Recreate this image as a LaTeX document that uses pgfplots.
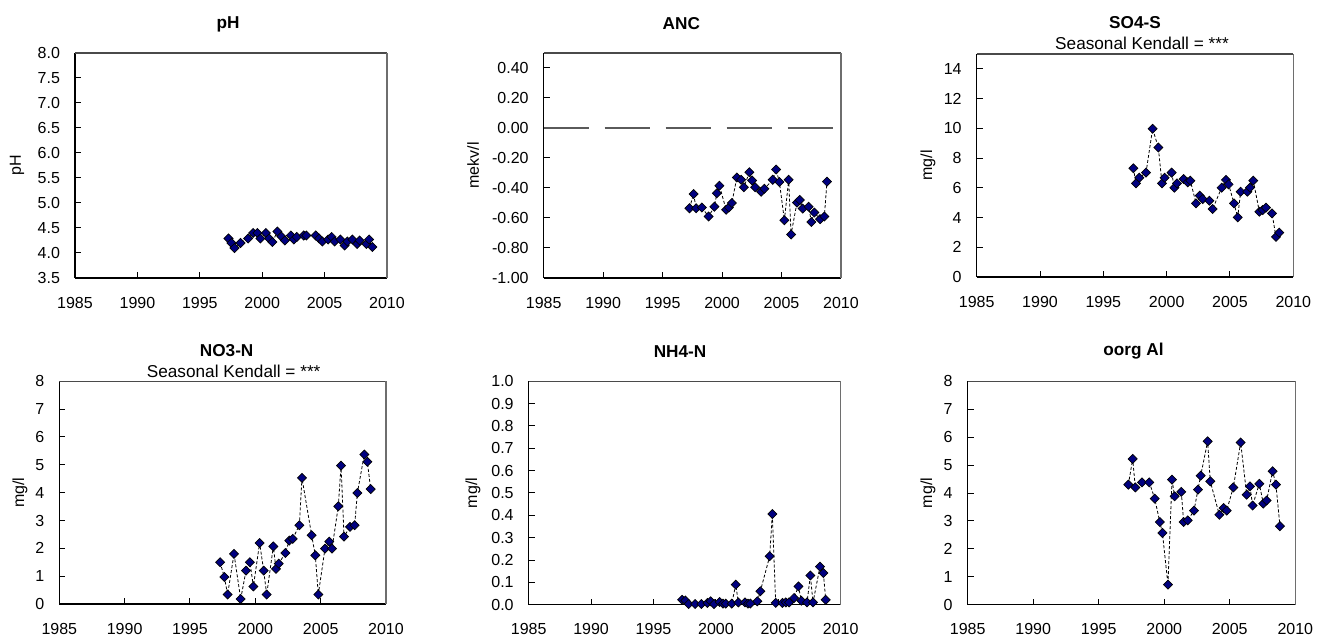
\documentclass[border=0pt]{standalone}
\usepackage{fontspec}
\setmainfont{Liberation Sans}
\usepackage{pgfplots}
\pgfplotsset{compat=1.18}
\definecolor{navy}{HTML}{000080}
\definecolor{zline}{HTML}{5A5A5A}
\definecolor{rline}{HTML}{6E6E6E}
\definecolor{tline}{HTML}{4A4A4A}

\newcommand{\tfont}{\fontsize{8.6}{10}\selectfont}
\newcommand{\lfont}{\fontsize{8}{9}\selectfont}
\newcommand{\frameedges}{%
  \draw[tline, line width=0.6pt] (rel axis cs:0,1) -- (rel axis cs:1,1);
  \draw[rline, line width=0.7pt] (rel axis cs:1,0) -- (rel axis cs:1,1);}

\pgfplotsset{
  panel/.style={
    scale only axis, anchor=south west, clip=false,
    xmin=1985, xmax=2010, xtick={1985,1990,...,2010},
    tick align=inside, tick pos=left, major tick length=3pt,
    tick style={black, line width=0.5pt},
    axis x line*=bottom, axis y line*=left,
    axis line style={black, line width=0.65pt, -},
    ticklabel style={font=\lfont},
    xticklabel style={yshift=-6pt},
    yticklabel style={xshift=-4pt},
    /pgf/number format/assume math mode=true,
    /pgf/number format/1000 sep={},
  },
  series/.style={
    black, line width=0.4pt, dash pattern=on 1.5pt off 1pt,
    mark=square*, mark size=1.6pt,
    mark options={solid, rotate=45, fill=navy, draw=black, line width=0.35pt},
  },
}

\begin{document}
\begin{tikzpicture}
\path[use as bounding box] (0,0) rectangle (664pt,318.5pt);

% ---------- pH
\begin{axis}[panel, at={(37.5pt,179.5pt)}, width=156pt, height=112.5pt,
  ymin=3.5, ymax=8.0, ytick={3.5,4.0,...,8.0},
  yticklabel style={/pgf/number format/.cd, fixed, fixed zerofill, precision=1}]
  \frameedges
  \addplot[series] coordinates {
    (1997.30,4.29)(1997.54,4.20)(1997.78,4.10)(1998.26,4.20)(1998.87,4.29)
    (1999.27,4.40)(1999.62,4.40)(1999.86,4.29)(2000.29,4.40)(2000.55,4.29)
    (2000.82,4.22)(2001.22,4.43)(2001.54,4.33)(2001.81,4.25)(2002.29,4.35)
    (2002.53,4.27)(2002.77,4.32)(2003.33,4.35)(2003.54,4.35)(2004.29,4.35)
    (2004.56,4.29)(2004.82,4.23)(2005.28,4.27)(2005.57,4.32)(2005.81,4.23)
    (2006.26,4.27)(2006.61,4.15)(2006.82,4.23)(2007.22,4.27)(2007.60,4.18)
    (2007.81,4.25)(2008.35,4.18)(2008.56,4.27)(2008.83,4.12)};
  \node[font=\tfont\bfseries] at ([xshift=-1.5pt,yshift=14.5pt]rel axis cs:0.5,1) {pH};
  \node[font=\lfont, rotate=90] at ([xshift=-29pt]rel axis cs:0,0.5) {pH};
\end{axis}

% ---------- ANC
\begin{axis}[panel, at={(271.85pt,179.5pt)}, width=148.65pt, height=112.5pt,
  ymin=-1.0, ymax=0.5, ytick={-1.0,-0.8,...,0.41},
  yticklabel style={/pgf/number format/.cd, fixed, fixed zerofill, precision=2}]
  \frameedges
  \addplot[zline, line width=0.7pt, dash pattern=on 22.5pt off 8pt] coordinates {(1985,0)(2010,0)};
  \addplot[series] coordinates {
    (1997.26,-0.535)(1997.60,-0.44)(1997.82,-0.535)(1998.30,-0.53)(1998.86,-0.59)
    (1999.36,-0.525)(1999.56,-0.435)(1999.78,-0.385)(2000.34,-0.545)(2000.57,-0.53)
    (2000.82,-0.50)(2001.24,-0.33)(2001.60,-0.345)(2001.83,-0.395)(2002.30,-0.295)
    (2002.53,-0.35)(2002.78,-0.395)(2003.28,-0.425)(2003.56,-0.405)(2004.26,-0.345)
    (2004.54,-0.277)(2004.82,-0.36)(2005.24,-0.615)(2005.60,-0.345)(2005.80,-0.71)
    (2006.30,-0.497)(2006.53,-0.48)(2006.78,-0.537)(2007.28,-0.525)(2007.51,-0.627)
    (2007.76,-0.564)(2008.24,-0.608)(2008.60,-0.59)(2008.82,-0.358)};
  \node[font=\tfont\bfseries] at ([xshift=-5.5pt,yshift=14.5pt]rel axis cs:0.5,1) {ANC};
  \node[font=\lfont, rotate=90] at ([xshift=-35.3pt]rel axis cs:0,0.5) {mekv/l};
\end{axis}

% ---------- SO4-S
\begin{axis}[panel, at={(488.35pt,180pt)}, width=158.3pt, height=111.5pt,
  ymin=0, ymax=15, ytick={0,2,...,14}]
  \frameedges
  \addplot[series] coordinates {
    (1997.37,7.31)(1997.58,6.30)(1997.84,6.68)(1998.37,7.02)(1998.89,9.97)
    (1999.34,8.71)(1999.63,6.30)(1999.84,6.68)(2000.39,7.02)(2000.61,6.01)
    (2000.82,6.30)(2001.34,6.59)(2001.66,6.37)(2001.87,6.48)(2002.32,4.95)
    (2002.61,5.47)(2002.84,5.24)(2003.37,5.13)(2003.63,4.57)(2004.34,6.01)
    (2004.68,6.53)(2004.89,6.23)(2005.32,4.95)(2005.61,4.01)(2005.84,5.74)
    (2006.37,5.74)(2006.58,6.01)(2006.84,6.48)(2007.32,4.39)(2007.58,4.50)
    (2007.84,4.66)(2008.32,4.28)(2008.63,2.70)(2008.89,2.99)};
  \node[font=\tfont\bfseries] at ([yshift=15.5pt]rel axis cs:0.5,1) {SO4-S};
  \node[font=\tfont] at ([xshift=3.5pt,yshift=5.5pt]rel axis cs:0.5,1) {Seasonal Kendall = ***};
  \node[font=\lfont, rotate=90] at ([xshift=-24.3pt]rel axis cs:0,0.5) {mg/l};
\end{axis}

% ---------- NO3-N
\begin{axis}[panel, at={(29.65pt,16.5pt)}, width=163.35pt, height=111.35pt,
  ymin=0, ymax=8, ytick={0,1,...,8}]
  \frameedges
  \addplot[series] coordinates {
    (1997.30,1.50)(1997.63,0.97)(1997.88,0.34)(1998.37,1.80)(1998.88,0.18)
    (1999.29,1.20)(1999.59,1.50)(1999.85,0.63)(2000.33,2.19)(2000.64,1.20)
    (2000.87,0.34)(2001.38,2.07)(2001.58,1.26)(2001.79,1.45)(2002.30,1.83)
    (2002.60,2.28)(2002.86,2.34)(2003.37,2.83)(2003.57,4.53)(2004.31,2.47)
    (2004.59,1.75)(2004.82,0.34)(2005.33,1.99)(2005.66,2.24)(2005.87,1.99)
    (2006.35,3.51)(2006.56,4.97)(2006.79,2.42)(2007.24,2.77)(2007.60,2.83)
    (2007.81,3.99)(2008.34,5.37)(2008.57,5.11)(2008.83,4.13)};
  \node[font=\tfont\bfseries] at ([xshift=2pt,yshift=15.5pt]rel axis cs:0.5,1) {NO3-N};
  \node[font=\tfont] at ([xshift=5.5pt,yshift=5pt]rel axis cs:0.5,1) {Seasonal Kendall = ***};
  \node[font=\lfont, rotate=90] at ([xshift=-19.7pt]rel axis cs:0,0.5) {mg/l};
\end{axis}

% ---------- NH4-N
\begin{axis}[panel, at={(264.35pt,16.15pt)}, width=156pt, height=111.7pt,
  ymin=0, ymax=1.0, ytick={0,0.1,...,1.01},
  yticklabel style={/pgf/number format/.cd, fixed, fixed zerofill, precision=1}]
  \frameedges
  \addplot[series] coordinates {
    (1997.29,0.022)(1997.55,0.019)(1997.82,0.003)(1998.33,0.003)(1998.84,0.003)
    (1999.32,0.008)(1999.58,0.015)(1999.85,0.003)(2000.30,0.012)(2000.57,0.005)
    (2000.79,0.005)(2001.27,0.005)(2001.59,0.090)(2001.80,0.010)(2002.33,0.010)
    (2002.57,0.005)(2002.76,0.005)(2003.32,0.015)(2003.56,0.060)(2004.31,0.217)
    (2004.52,0.406)(2004.79,0.008)(2005.33,0.008)(2005.60,0.010)(2005.86,0.010)
    (2006.26,0.030)(2006.61,0.082)(2006.85,0.018)(2007.30,0.010)(2007.57,0.131)
    (2007.78,0.010)(2008.34,0.170)(2008.61,0.142)(2008.80,0.022)};
  \node[font=\tfont\bfseries] at ([xshift=-2.3pt,yshift=15pt]rel axis cs:0.5,1) {NH4-N};
  \node[font=\lfont, rotate=90] at ([xshift=-27.8pt]rel axis cs:0,0.5) {mg/l};
\end{axis}

% ---------- oorg Al
\begin{axis}[panel, at={(483.85pt,16.15pt)}, width=163.8pt, height=111.7pt,
  ymin=0, ymax=8, ytick={0,1,...,8}]
  \frameedges
  \addplot[series] coordinates {
    (1997.26,4.30)(1997.59,5.22)(1997.79,4.20)(1998.30,4.38)(1998.86,4.38)
    (1999.27,3.80)(1999.66,2.96)(1999.86,2.57)(2000.28,0.72)(2000.59,4.48)
    (2000.79,3.88)(2001.30,4.04)(2001.48,2.96)(2001.79,3.02)(2002.27,3.37)
    (2002.57,4.12)(2002.78,4.62)(2003.31,5.85)(2003.51,4.42)(2004.20,3.22)
    (2004.53,3.46)(2004.76,3.37)(2005.27,4.20)(2005.83,5.81)(2006.29,3.94)
    (2006.54,4.24)(2006.74,3.55)(2007.25,4.33)(2007.56,3.62)(2007.81,3.73)
    (2008.27,4.78)(2008.52,4.30)(2008.83,2.81)};
  \node[font=\tfont\bfseries] at ([xshift=1pt,yshift=15pt]rel axis cs:0.5,1) {oorg Al};
  \node[font=\lfont, rotate=90] at ([xshift=-19.8pt]rel axis cs:0,0.5) {mg/l};
\end{axis}
\end{tikzpicture}
\end{document}
